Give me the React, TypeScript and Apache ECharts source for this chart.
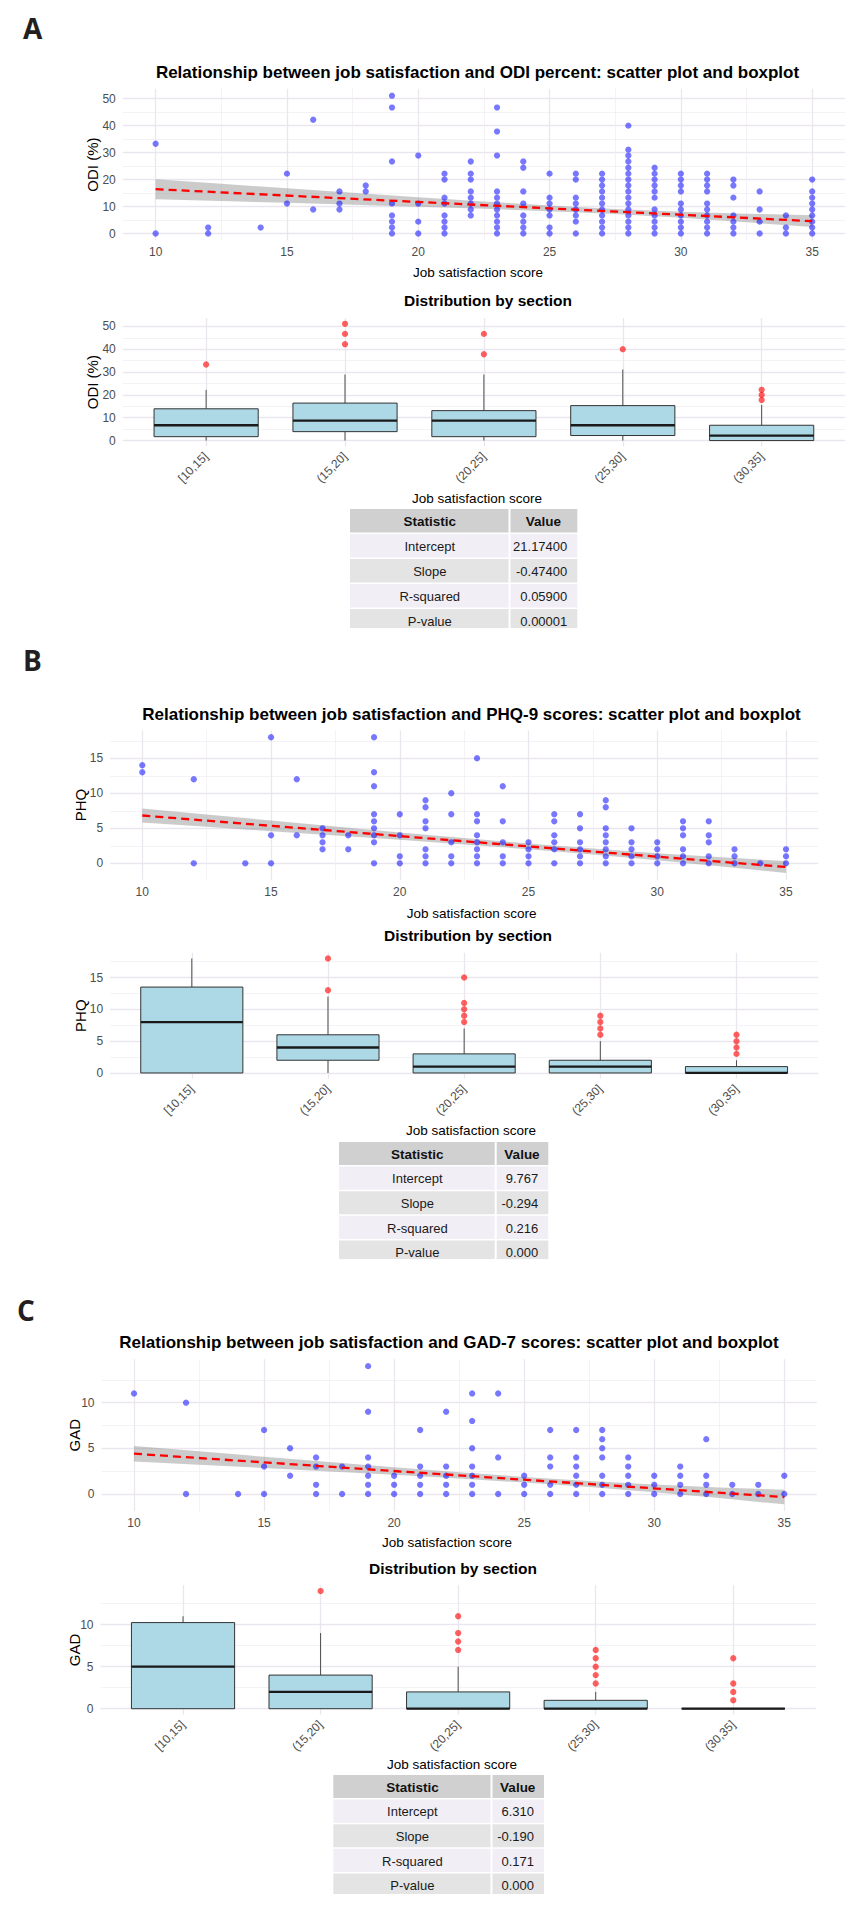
import React, { useEffect, useRef } from "react";
import * as echarts from "echarts";

const PAGE_W = 863;
const PAGE_H = 1906;

const FONT = '"Liberation Sans", Arial, Helvetica, sans-serif';
const LETTER_FONT = '"Open Sans", "DejaVu Sans", sans-serif';
const GRID_MAJOR = "#ebe6ee";
const GRID_MINOR = "#f1edf3";
const TICK_COLOR = "#4d4d4d";

// ---------- shared axis values ----------
const scoreTicks = [10, 15, 20, 25, 30, 35];
const scoreMinorTicks = [12.5, 17.5, 22.5, 27.5, 32.5];
const sectionLabels = ["[10,15]", "(15,20]", "(20,25]", "(25,30]", "(30,35]"];
const sectionPositions = [1, 2, 3, 4, 5];
const statNames = ["Intercept", "Slope", "R-squared", "P-value"];
const bandX = [10, 12.5, 15, 17.5, 20, 22.5, 25, 27.5, 30, 32.5, 35];
const fitX = [10, 35];

// ---------- Panel A: ODI ----------
const odiColumns: [number, number[]][] = [
  [10, [33.3, 0]],
  [12, [2.2, 0]],
  [14, [2.2]],
  [15, [22.2, 11.1]],
  [16, [42.2, 8.9]],
  [17, [15.6, 11.1, 8.9]],
  [18, [17.8, 15.6]],
  [19, [51.1, 46.7, 26.7, 11.1, 6.7, 4.4, 2.2, 0]],
  [20, [28.9, 11.1, 4.4, 0]],
  [21, [22.2, 20, 13.3, 11.1, 6.7, 4.4, 2.2, 0]],
  [22, [26.7, 22.2, 20, 15.6, 13.3, 11.1, 8.9, 6.7]],
  [23, [46.7, 37.8, 28.9, 15.6, 13.3, 11.1, 8.9, 6.7, 4.4, 2.2, 0]],
  [24, [26.7, 24.4, 15.6, 11.1, 6.7, 4.4, 2.2, 0]],
  [25, [22.2, 13.3, 11.1, 8.9, 6.7, 2.2, 0]],
  [26, [22.2, 20, 13.3, 11.1, 8.9, 6.7, 4.4, 0]],
  [27, [22.2, 20, 17.8, 15.6, 13.3, 11.1, 8.9, 6.7, 4.4, 2.2, 0]],
  [28, [40, 31.1, 28.9, 26.7, 24.4, 22.2, 20, 17.8, 15.6, 13.3, 11.1, 8.9, 6.7, 4.4, 2.2, 0]],
  [29, [24.4, 22.2, 20, 17.8, 15.6, 13.3, 8.9, 6.7, 4.4, 2.2, 0]],
  [30, [22.2, 20, 17.8, 15.6, 11.1, 8.9, 6.7, 4.4, 2.2, 0]],
  [31, [22.2, 20, 17.8, 15.6, 11.1, 8.9, 6.7, 4.4, 2.2, 0]],
  [32, [20, 17.8, 13.3, 6.7, 4.4, 2.2, 0]],
  [33, [15.6, 8.9, 4.4, 0]],
  [34, [6.7, 2.2, 0]],
  [35, [20, 15.6, 13.3, 11.1, 8.9, 6.7, 4.4, 2.2, 0]],
];
const odiBandHalf = [3.7, 3.2, 2.7, 2.2, 1.75, 1.35, 1.05, 0.95, 1.15, 1.6, 2.2];
const odiStats = [21.174, -0.474, 0.059, 0.00001];
const odiDigits = 5;
// [lower whisker, Q1, median, Q3, upper whisker]
const odiBoxes = [
  [0, 1.7, 6.7, 13.9, 22.2],
  [0, 3.9, 8.7, 16.4, 28.9],
  [0, 1.7, 8.7, 13.1, 28.9],
  [0, 2.2, 6.7, 15.3, 31.1],
  [0, 0, 2.2, 6.7, 15.6],
];
const odiOutliers = [
  [1, 33.3],
  [2, 42.2], [2, 46.7], [2, 51.1],
  [3, 37.8], [3, 46.7],
  [4, 40],
  [5, 17.8], [5, 20], [5, 22.2],
];
const odiYTicks = [0, 10, 20, 30, 40, 50];
const odiYMinor = [5, 15, 25, 35, 45];

// ---------- Panel B: PHQ ----------
const phqColumns: [number, number[]][] = [
  [10, [14, 13]],
  [12, [12, 0]],
  [14, [0]],
  [15, [18, 4, 0]],
  [16, [12, 4]],
  [17, [5, 4, 3, 2]],
  [18, [4, 2]],
  [19, [18, 13, 11, 7, 6, 5, 4, 3, 0]],
  [20, [7, 4, 1, 0]],
  [21, [9, 8, 6, 5, 2, 1, 0]],
  [22, [10, 7, 3, 1, 0]],
  [23, [15, 7, 6, 4, 3, 2, 1, 0]],
  [24, [11, 6, 3, 1, 0]],
  [25, [3, 2, 1, 0]],
  [26, [7, 6, 4, 3, 2, 0]],
  [27, [7, 5, 3, 2, 1, 0]],
  [28, [9, 8, 5, 4, 3, 2, 1, 0]],
  [29, [5, 3, 2, 1, 0]],
  [30, [3, 2, 1, 0]],
  [31, [6, 5, 4, 2, 1, 0]],
  [32, [6, 4, 3, 1, 0]],
  [33, [2, 1, 0]],
  [34, [0]],
  [35, [2, 1, 0]],
];
const phqBandHalf = [1.0, 0.88, 0.76, 0.64, 0.53, 0.45, 0.4, 0.42, 0.5, 0.65, 0.85];
const phqStats = [9.767, -0.294, 0.216, 0.0];
const phqDigits = 3;
const phqBoxes = [
  [0, 0, 8, 13.5, 18],
  [0, 2, 4, 6, 12],
  [0, 0, 1, 3, 7],
  [0, 0, 1, 2, 5],
  [0, 0, 0, 1, 2],
];
const phqOutliers = [
  [2, 13], [2, 18],
  [3, 8], [3, 9], [3, 10], [3, 11], [3, 15],
  [4, 6], [4, 7], [4, 8], [4, 9],
  [5, 3], [5, 4], [5, 5], [5, 6],
];
const phqYTicks = [0, 5, 10, 15];
const phqYMinor = [2.5, 7.5, 12.5, 17.5];

// ---------- Panel C: GAD ----------
const gadColumns: [number, number[]][] = [
  [10, [11]],
  [12, [10, 0]],
  [14, [0]],
  [15, [7, 3, 0]],
  [16, [5, 2]],
  [17, [4, 3, 1, 0]],
  [18, [3, 0]],
  [19, [14, 9, 4, 3, 2, 1, 0]],
  [20, [2, 1, 0]],
  [21, [7, 3, 2, 1, 0]],
  [22, [9, 3, 2, 1, 0]],
  [23, [11, 8, 5, 3, 2, 1, 0]],
  [24, [11, 4, 0]],
  [25, [2, 1, 0]],
  [26, [7, 4, 3, 1, 0]],
  [27, [7, 4, 3, 2, 1, 0]],
  [28, [7, 6, 5, 4, 2, 1, 0]],
  [29, [4, 3, 2, 1, 0]],
  [30, [2, 1, 0]],
  [31, [3, 2, 1, 0]],
  [32, [6, 2, 1, 0]],
  [33, [1, 0]],
  [34, [1, 0]],
  [35, [2, 0]],
];
const gadBandHalf = [0.85, 0.73, 0.62, 0.52, 0.42, 0.35, 0.31, 0.33, 0.42, 0.58, 0.8];
const gadStats = [6.31, -0.19, 0.171, 0.0];
const gadDigits = 3;
const gadBoxes = [
  [0, 0, 5, 10.25, 11],
  [0, 0, 2, 4, 9],
  [0, 0, 0, 2, 5],
  [0, 0, 0, 1, 2],
  [0, 0, 0, 0, 0],
];
const gadOutliers = [
  [2, 14],
  [3, 7], [3, 8], [3, 9], [3, 11],
  [4, 3], [4, 4], [4, 5], [4, 6], [4, 7],
  [5, 1], [5, 2], [5, 3], [5, 6],
];
const gadYTicks = [0, 5, 10];
const gadYMinor = [2.5, 7.5, 12.5];

// ---------- layout ----------
interface Frame { left: number; top: number; width: number; height: number; yMin: number; yMax: number; }
interface TableBox { left: number; split: number; right: number; top: number; rowH: number; bottom: number; }
interface PanelSpec {
  letter: string; letterPos: [number, number];
  title: string; titlePos: [number, number];
  yName: string; yNameX: number;
  scatter: Frame; box: Frame;
  yTicks: number[]; yMinor: number[];
  scatterXTitle: [number, number]; subTitle: [number, number]; boxXTitle: [number, number];
  table: TableBox;
  columns: [number, number[]][]; bandHalf: number[]; stats: number[]; digits: number;
  boxes: number[][]; outliers: number[][];
}

const panels: PanelSpec[] = [
  {
    letter: "A", letterPos: [23, 28],
    title: "Relationship between job satisfaction and ODI percent: scatter plot and boxplot", titlePos: [477.5, 72],
    yName: "ODI (%)", yNameX: 92,
    scatter: { left: 122.8, top: 88.8, width: 722.2, height: 151.6, yMin: -2.555, yMax: 53.655 },
    box: { left: 122.8, top: 318, width: 722.2, height: 128.4, yMin: -2.555, yMax: 53.655 },
    yTicks: odiYTicks, yMinor: odiYMinor,
    scatterXTitle: [478, 272], subTitle: [488, 300], boxXTitle: [477, 498.3],
    table: { left: 350, split: 509.5, right: 577.3, top: 509, rowH: 25, bottom: 628.3 },
    columns: odiColumns, bandHalf: odiBandHalf, stats: odiStats, digits: odiDigits,
    boxes: odiBoxes, outliers: odiOutliers,
  },
  {
    letter: "B", letterPos: [23, 660],
    title: "Relationship between job satisfaction and PHQ-9 scores: scatter plot and boxplot", titlePos: [471.5, 714],
    yName: "PHQ", yNameX: 80,
    scatter: { left: 110.1, top: 730.5, width: 708.1, height: 149.2, yMin: -2.34, yMax: 18.97 },
    box: { left: 110.1, top: 952.7, width: 708.1, height: 126, yMin: -0.9, yMax: 18.9 },
    yTicks: phqYTicks, yMinor: phqYMinor,
    scatterXTitle: [471.6, 913.3], subTitle: [468, 935], boxXTitle: [471, 1130],
    table: { left: 339, split: 495.7, right: 548.3, top: 1142, rowH: 24.6, bottom: 1259.3 },
    columns: phqColumns, bandHalf: phqBandHalf, stats: phqStats, digits: phqDigits,
    boxes: phqBoxes, outliers: phqOutliers,
  },
  {
    letter: "C", letterPos: [17, 1310],
    title: "Relationship between job satisfaction and GAD-7 scores: scatter plot and boxplot", titlePos: [449, 1342],
    yName: "GAD", yNameX: 74.5,
    scatter: { left: 101.5, top: 1359.2, width: 715.3, height: 152.1, yMin: -1.9, yMax: 14.76 },
    box: { left: 100.5, top: 1585.2, width: 715.3, height: 129.4, yMin: -0.7, yMax: 14.7 },
    yTicks: gadYTicks, yMinor: gadYMinor,
    scatterXTitle: [447, 1542.3], subTitle: [453, 1568], boxXTitle: [452, 1764.3],
    table: { left: 333.3, split: 491.5, right: 544, top: 1775, rowH: 24.6, bottom: 1894 },
    columns: gadColumns, bandHalf: gadBandHalf, stats: gadStats, digits: gadDigits,
    boxes: gadBoxes, outliers: gadOutliers,
  },
];

function textEl(text: string, x: number, y: number, font: string, opts: any = {}) {
  const align = opts.align || "center";
  return {
    type: "text", x, y, rotation: opts.rotation || 0, z: opts.z || 50, silent: true,
    style: {
      text, font, fill: opts.fill || "#000",
      align, verticalAlign: "middle", textAlign: align, textVerticalAlign: "middle",
    },
  };
}

function buildOption() {
  const grid: any[] = [];
  const xAxis: any[] = [];
  const yAxis: any[] = [];
  const series: any[] = [];
  const graphic: any[] = [];

  const majorAxis = (gi: number, position: string, min: number, max: number, ticks: number[], label: any) => ({
    type: "value", gridIndex: gi, position, min, max,
    axisLine: { show: false },
    axisTick: { show: false, customValues: ticks },
    axisLabel: { customValues: ticks, color: TICK_COLOR, fontSize: 12, fontFamily: FONT, ...label },
    splitLine: { show: true, lineStyle: { color: GRID_MAJOR, width: 1.3 } },
    minorTick: { show: false }, minorSplitLine: { show: false },
  });
  const minorAxis = (gi: number, position: string, min: number, max: number, ticks: number[]) => ({
    type: "value", gridIndex: gi, position, min, max,
    axisLine: { show: false },
    axisTick: { show: false, customValues: ticks },
    axisLabel: { show: false, customValues: ticks },
    splitLine: { show: true, lineStyle: { color: GRID_MINOR, width: 0.7 } },
    minorTick: { show: false }, minorSplitLine: { show: false },
  });

  panels.forEach((p) => {
    const fit = (x: number) => p.stats[0] + p.stats[1] * x;

    // ---- scatter grid ----
    const gs = grid.length;
    grid.push({ left: p.scatter.left, top: p.scatter.top, width: p.scatter.width, height: p.scatter.height, containLabel: false, outerBoundsMode: "none" });
    xAxis.push(minorAxis(gs, "top", 8.75, 36.25, scoreMinorTicks));
    const sx = xAxis.length;
    xAxis.push(majorAxis(gs, "bottom", 8.75, 36.25, scoreTicks, { margin: 6 }));
    yAxis.push(minorAxis(gs, "right", p.scatter.yMin, p.scatter.yMax, p.yMinor));
    const sy = yAxis.length;
    yAxis.push(majorAxis(gs, "left", p.scatter.yMin, p.scatter.yMax, p.yTicks, { margin: 7 }));

    series.push({
      type: "custom", xAxisIndex: sx, yAxisIndex: sy, silent: true, z: 2,
      data: bandX.map((x, i) => [x, fit(x) - p.bandHalf[i], fit(x) + p.bandHalf[i]]),
      renderItem: (params: any, api: any) => {
        if (params.dataIndex !== 0) return null;
        const upper = bandX.map((x, i) => api.coord([x, fit(x) + p.bandHalf[i]]));
        const lower = bandX.map((x, i) => api.coord([x, fit(x) - p.bandHalf[i]])).reverse();
        return { type: "polygon", shape: { points: upper.concat(lower) }, style: { fill: "rgba(140,140,140,0.45)" } };
      },
    });
    series.push({
      type: "scatter", xAxisIndex: sx, yAxisIndex: sy, silent: true, z: 3,
      symbolSize: 6.3,
      itemStyle: { color: "rgba(0,0,255,0.66)" },
      data: p.columns.flatMap(([s, vals]) => vals.map((v) => [s, v])),
    });
    series.push({
      type: "line", xAxisIndex: sx, yAxisIndex: sy, silent: true, z: 4,
      symbol: "none",
      lineStyle: { color: "#ff0000", width: 2.3, type: [8, 5] },
      data: fitX.map((x) => [x, fit(x)]),
    });

    // ---- box grid ----
    const gb = grid.length;
    grid.push({ left: p.box.left, top: p.box.top, width: p.box.width, height: p.box.height, containLabel: false, outerBoundsMode: "none" });
    const bx = xAxis.length;
    xAxis.push(majorAxis(gb, "bottom", 0.4, 5.6, sectionPositions, {
      margin: 8, rotate: 45, fontSize: 12,
      formatter: (v: number) => sectionLabels[Math.round(v) - 1] || "",
    }));
    yAxis.push(minorAxis(gb, "right", p.box.yMin, p.box.yMax, p.yMinor));
    const by = yAxis.length;
    yAxis.push(majorAxis(gb, "left", p.box.yMin, p.box.yMax, p.yTicks, { margin: 7 }));

    series.push({
      type: "custom", xAxisIndex: bx, yAxisIndex: by, silent: true, z: 2,
      data: p.boxes.map((b, i) => [sectionPositions[i], ...b]),
      renderItem: (params: any, api: any) => {
        const pos = api.value(0);
        const lo = api.value(1), q1 = api.value(2), md = api.value(3), q3 = api.value(4), hi = api.value(5);
        const half = api.size([0.75, 0])[0] / 2;
        const c = (v: number) => api.coord([pos, v]);
        const pLo = c(lo), pQ1 = c(q1), pMd = c(md), pQ3 = c(q3), pHi = c(hi);
        const children: any[] = [];
        if (hi > q3) children.push({ type: "line", shape: { x1: pQ3[0], y1: pQ3[1], x2: pHi[0], y2: pHi[1] }, style: { stroke: "#4d4d4d", lineWidth: 1 } });
        if (lo < q1) children.push({ type: "line", shape: { x1: pLo[0], y1: pLo[1], x2: pQ1[0], y2: pQ1[1] }, style: { stroke: "#4d4d4d", lineWidth: 1 } });
        children.push({ type: "rect", shape: { x: pQ3[0] - half, y: pQ3[1], width: half * 2, height: Math.max(pQ1[1] - pQ3[1], 0) }, style: { fill: "#add8e6", stroke: "#333333", lineWidth: 1 } });
        children.push({ type: "line", shape: { x1: pMd[0] - half, y1: pMd[1], x2: pMd[0] + half, y2: pMd[1] }, style: { stroke: "#1a1a1a", lineWidth: 2.3 } });
        return { type: "group", children };
      },
    });
    series.push({
      type: "scatter", xAxisIndex: bx, yAxisIndex: by, silent: true, z: 3,
      symbolSize: 6.3,
      itemStyle: { color: "rgba(255,0,0,0.78)" },
      data: p.outliers,
    });

    // ---- texts ----
    graphic.push(textEl(p.letter, p.letterPos[0], p.letterPos[1], `bold 28px ${LETTER_FONT}`, { align: "left", fill: "#231f20" }));
    graphic.push(textEl(p.title, p.titlePos[0], p.titlePos[1], `bold 17px ${FONT}`));
    graphic.push(textEl(p.yName, p.yNameX, p.scatter.top + p.scatter.height / 2, `15px ${FONT}`, { rotation: Math.PI / 2 }));
    graphic.push(textEl(p.yName, p.yNameX, p.box.top + p.box.height / 2, `15px ${FONT}`, { rotation: Math.PI / 2 }));
    graphic.push(textEl("Job satisfaction score", p.scatterXTitle[0], p.scatterXTitle[1], `13.5px ${FONT}`));
    graphic.push(textEl("Distribution by section", p.subTitle[0], p.subTitle[1], `bold 15.5px ${FONT}`));
    graphic.push(textEl("Job satisfaction score", p.boxXTitle[0], p.boxXTitle[1], `13.5px ${FONT}`));

    // ---- table ----
    const t = p.table;
    const rows: string[][] = [["Statistic", "Value"], ...statNames.map((n, i) => [n, p.stats[i].toFixed(p.digits)])];
    rows.forEach((r, ri) => {
      const y = t.top + ri * t.rowH;
      const h = Math.min(t.rowH, t.bottom - y);
      const bg = ri === 0 ? "#d0d0d0" : ri % 2 === 1 ? "#f2eef5" : "#e4e4e4";
      const gap = ri < rows.length - 1 ? 1.5 : 0;
      graphic.push({ type: "rect", z: 40, silent: true, shape: { x: t.left, y, width: t.split - t.left - 1, height: h - gap }, style: { fill: bg } });
      graphic.push({ type: "rect", z: 40, silent: true, shape: { x: t.split + 1, y, width: t.right - t.split - 1, height: h - gap }, style: { fill: bg } });
      const cy = y + t.rowH / 2;
      if (ri === 0) {
        graphic.push(textEl(r[0], (t.left + t.split) / 2, cy, `bold 13.5px ${FONT}`, { fill: "#111" }));
        graphic.push(textEl(r[1], (t.split + t.right) / 2, cy, `bold 13.5px ${FONT}`, { fill: "#111" }));
      } else {
        graphic.push(textEl(r[0], (t.left + t.split) / 2, cy, `13px ${FONT}`, { fill: "#1a1a1a" }));
        graphic.push(textEl(r[1], t.right - 10, cy, `13px ${FONT}`, { fill: "#1a1a1a", align: "right" }));
      }
    });
    graphic.push({ type: "rect", z: 60, silent: true, shape: { x: t.left - 2, y: t.bottom, width: t.right - t.left + 4, height: 10 }, style: { fill: "#ffffff" } });
  });

  return {
    animation: false,
    backgroundColor: "#ffffff",
    grid, xAxis, yAxis, series, graphic,
  };
}

export default function App() {
  const ref = useRef<HTMLDivElement>(null);
  useEffect(() => {
    document.body.style.margin = "0";
    const chart = echarts.init(ref.current as HTMLDivElement, null, { renderer: "svg", width: PAGE_W, height: PAGE_H });
    chart.setOption(buildOption() as any);
    return () => chart.dispose();
  }, []);
  return <div ref={ref} style={{ width: PAGE_W, height: PAGE_H, background: "#fff" }} />;
}
